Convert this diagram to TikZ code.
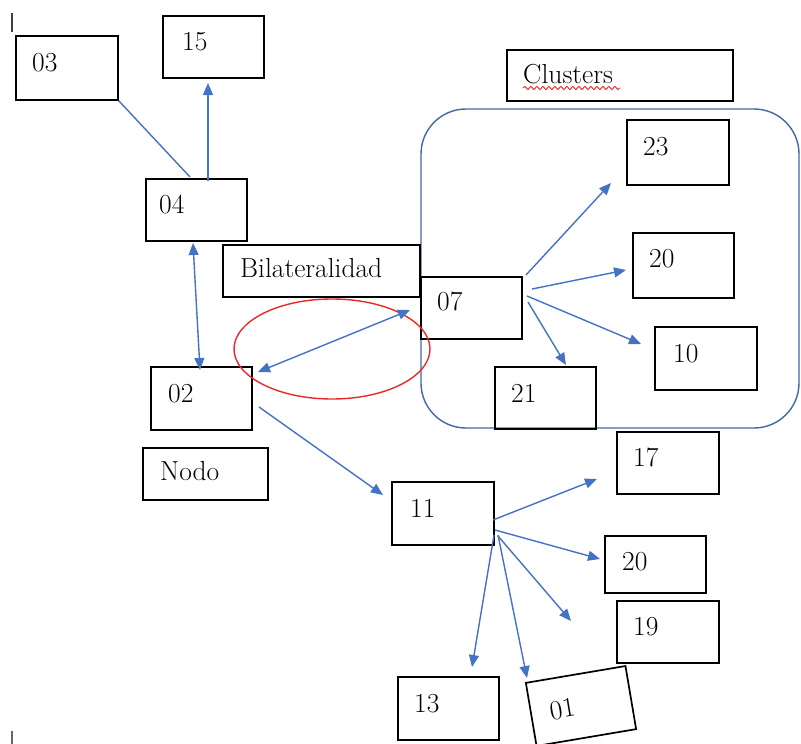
\documentclass[tikz,border=0pt]{standalone}
\usetikzlibrary{arrows.meta,decorations.pathmorphing,calc}
\definecolor{arrowblue}{RGB}{68,114,196}
\definecolor{clusterblue}{RGB}{65,105,165}
\definecolor{ellred}{RGB}{235,40,40}
\newcommand\tnrfont{\rmfamily}
\begin{document}
\begin{tikzpicture}[x=1pt,y=-1pt,
  box/.style={draw=black, line width=1.7pt, rectangle, inner sep=0pt, anchor=north west},
  txt/.style={font=\tnrfont\fontsize{27.5}{32}\selectfont, inner sep=0pt, anchor=base west},
  conn/.style={draw=arrowblue, line width=1.4pt},
  arr/.style={conn, -{Triangle[length=12pt,width=10pt]}},
  darr/.style={conn, {Triangle[length=12pt,width=10pt]}-{Triangle[length=12pt,width=10pt]}}]
\useasboundingbox (0,0) rectangle (801,744);
\fill[white] (0,0) rectangle (801,744);

% small marks at the left edge
\draw[line width=1.5pt, black!75] (12,13) -- (12,32);
\coordinate (m1) at (12,731); \coordinate (m2) at (12,744);
\draw[line width=1.5pt, black!60] (m1) -- (m2);

% cluster frame
\draw[clusterblue, line width=1.4pt, rounded corners=45pt] (421,109) rectangle (799,428);

% boxes
\node[box, minimum width=102pt, minimum height=64pt] (n03) at (15,35) {};
\node[txt] (t03) at (32,71) {03};
\node[box, minimum width=101pt, minimum height=62pt] (n15) at (162,15) {};
\node[txt] (t15) at (182,50) {15};
\node[box, minimum width=101pt, minimum height=62pt] (n04) at (145,178) {};
\node[txt] (t04) at (159,213) {04};
\node[box, minimum width=197pt, minimum height=52pt] (nbil) at (222,244) {};
\node[txt] (tbil) at (240,277) {Bilateralidad};
\node[box, minimum width=101pt, minimum height=62pt] (n07) at (420,276) {};
\node[txt] (t07) at (437,310) {07};
\node[box, minimum width=226pt, minimum height=51pt] (nclu) at (506,49) {};
\node[txt] (tclu) at (523,83) {Clusters};
\coordinate (w1) at (523,88); \coordinate (w2) at (620,88);
\draw[ellred, line width=0.9pt, decorate, decoration={snake, amplitude=1.6pt, segment length=6pt}] (w1) -- (w2);
\node[box, minimum width=102pt, minimum height=65pt] (n23) at (626,119) {};
\node[txt] (t23) at (643,155) {23};
\node[box, minimum width=101pt, minimum height=65pt] (n20a) at (632,232) {};
\node[txt] (t20a) at (649,267) {20};
\node[box, minimum width=102pt, minimum height=63pt] (n10) at (654,326) {};
\node[txt] (t10) at (673,362) {10};
\node[box, minimum width=101pt, minimum height=62pt] (n21) at (494,366) {};
\node[txt] (t21) at (511,402) {21};
\node[box, minimum width=101pt, minimum height=63pt] (n02) at (150,366) {};
\node[txt] (t02) at (168,402) {02};
\node[box, minimum width=125pt, minimum height=52pt] (nnodo) at (142,447) {};
\node[txt] (tnodo) at (160,480) {Nodo};
\node[box, minimum width=102pt, minimum height=63pt] (n11) at (391,481) {};
\node[txt] (t11) at (410,517) {11};
\node[box, minimum width=102pt, minimum height=62pt] (n17) at (616,431) {};
\node[txt] (t17) at (633,466) {17};
\node[box, minimum width=101pt, minimum height=57pt] (n20b) at (604,535) {};
\node[txt] (t20b) at (622,570) {20};
\node[box, minimum width=102pt, minimum height=62pt] (n19) at (616,600) {};
\node[txt] (t19) at (633,635) {19};
\node[box, minimum width=101pt, minimum height=63pt] (n13) at (397,676) {};
\node[txt] (t13) at (414,712) {13};
\node[draw=black, line width=1.7pt, rectangle, inner xsep=19pt, inner ysep=0pt,
      text width=63pt, align=left, minimum height=64pt, rotate=9.6,
      font=\tnrfont\fontsize{27.5}{32}\selectfont] (n01) at (581,706) {01};

% red ellipse
\draw[ellred, line width=1.4pt] (332,349) ellipse [x radius=98, y radius=50];

% connectors
\coordinate (a1) at (190,177);
\draw[conn] (n03.south east) -- (a1);
\coordinate (b1) at (208,181); \coordinate (b2) at (208,83);
\draw[arr] (b1) -- (b2);
\coordinate (c1) at (193,243); \coordinate (c2) at (200,370);
\draw[darr] (c1) -- (c2);
\coordinate (d1) at (258,372); \coordinate (d2) at (410,310);
\draw[darr] (d1) -- (d2);
\coordinate (e1) at (259,407); \coordinate (e2) at (383,495);
\draw[arr] (e1) -- (e2);
\coordinate (f0) at (526,275); \coordinate (f1) at (611,183);
\draw[arr] (f0) -- (f1);
\coordinate (g0) at (532,289); \coordinate (g1) at (626,270);
\draw[arr] (g0) -- (g1);
\coordinate (h0) at (527,296); \coordinate (h1) at (641,344);
\draw[arr] (h0) -- (h1);
\coordinate (i0) at (528,302); \coordinate (i1) at (566,365);
\draw[arr] (i0) -- (i1);
\coordinate (j0) at (493,520); \coordinate (j1) at (597,479);
\draw[arr] (j0) -- (j1);
\coordinate (k0) at (495,530); \coordinate (k1) at (600,559);
\draw[arr] (k0) -- (k1);
\coordinate (l0) at (498,536); \coordinate (l1) at (571,621);
\draw[arr] (l0) -- (l1);
\coordinate (m0) at (494,535); \coordinate (mm1) at (472,667);
\draw[arr] (m0) -- (mm1);
\coordinate (o0) at (498,535); \coordinate (o1) at (527,678);
\draw[arr] (o0) -- (o1);
\end{tikzpicture}
\end{document}
